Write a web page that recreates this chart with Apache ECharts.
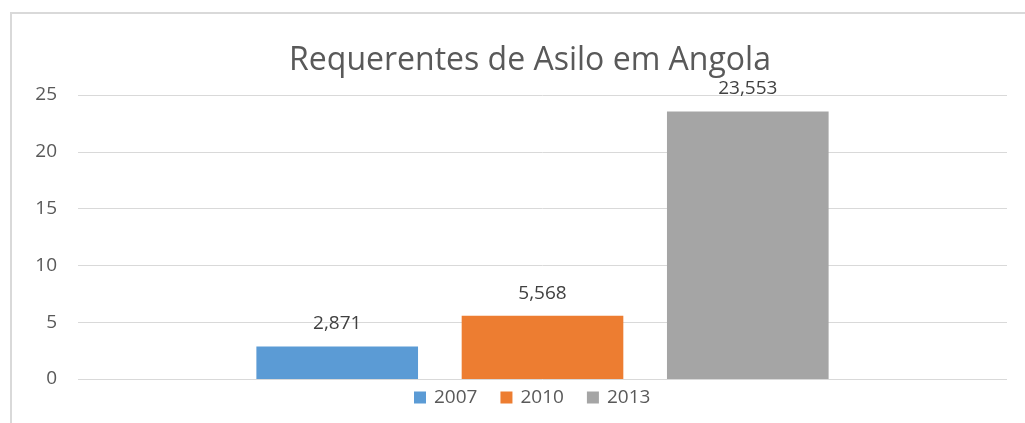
<!DOCTYPE html>
<html>
<head>
<meta charset="utf-8">
<script src="https://cdn.jsdelivr.net/npm/echarts@6/dist/echarts.min.js"></script>
<style>
  html, body { margin: 0; padding: 0; background: #fff; }
  #chart { width: 1025px; height: 423px; }
</style>
</head>
<body>
<div id="chart"></div>
<script>
// dados
let years = ['2007', '2010', '2013'];
let values = [2.871, 5.568, 23.553];
let colors = ['#5b9bd5', '#ed7d31', '#a5a5a5'];
let yTicks = [0, 5, 10, 15, 20, 25];

let chart = echarts.init(document.getElementById('chart'));

let series = years.map(function (yr, i) {
  return {
    name: yr,
    type: 'bar',
    data: [values[i]],
    barWidth: '17.4%',
    barGap: '27%',
    itemStyle: { color: colors[i] },
    label: {
      show: true,
      position: 'top',
      distance: 13,
      color: '#404040',
      fontSize: 19,
      fontFamily: 'Open Sans',
      formatter: function (p) {
        return p.value.toFixed(3).replace('.', ',');
      }
    }
  };
});

chart.setOption({
  animation: false,
  textStyle: { fontFamily: 'Open Sans' },
  title: {
    text: 'Requerentes de Asilo em Angola',
    left: 525,
    textAlign: 'center',
    top: 40,
    textStyle: { fontSize: 32, fontWeight: 'normal', color: '#595959', fontFamily: 'Open Sans' }
  },
  legend: {
    data: years,
    bottom: 11,
    left: 409,
    itemWidth: 12,
    itemHeight: 12,
    itemGap: 23,
    icon: 'rect',
    textStyle: { fontSize: 19, color: '#595959', fontFamily: 'Open Sans', padding: [0, 0, 0, 3] }
  },
  graphic: [{
    type: 'rect',
    shape: { x: 11, y: 13, width: 1040, height: 440 },
    style: { fill: 'none', stroke: '#d9d9d9', lineWidth: 2 },
    silent: true
  }],
  grid: { left: 78, right: 18, top: 95, bottom: 44 },
  xAxis: {
    type: 'category',
    data: [''],
    axisLine: { show: false },
    axisTick: { show: false },
    axisLabel: { show: false }
  },
  yAxis: {
    type: 'value',
    min: yTicks[0],
    max: yTicks[yTicks.length - 1],
    interval: 5,
    axisLine: { show: false },
    axisTick: { show: false },
    axisLabel: { color: '#595959', fontSize: 19, margin: 21, fontFamily: 'Open Sans' },
    splitLine: { lineStyle: { color: '#d9d9d9', width: 1 } }
  },
  series: series
});
</script>
</body>
</html>
